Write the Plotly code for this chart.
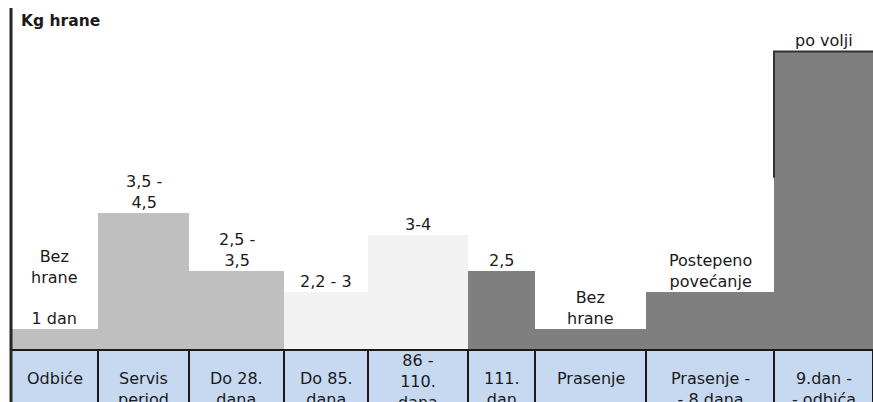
import plotly.graph_objects as go

# --- data -------------------------------------------------------------
categories = [
    "Odbiće", "Servis<br>period", "Do 28.<br>dana", "Do 85.<br>dana",
    "86 -<br>110.<br>dana", "111.<br>dan", "Prasenje",
    "Prasenje -<br>- 8.dana", "9.dan -<br>- odbića",
]
# relative feed level (kg hrane) drawn for each phase
levels = [0.65, 4.35, 2.5, 1.85, 3.65, 2.5, 0.65, 1.85, 9.45]
value_labels = [
    "Bez<br>hrane<br><br>1 dan", "3,5 -<br>4,5", "2,5 -<br>3,5", "2,2 - 3",
    "3-4", "2,5", "Bez<br>hrane", "Postepeno<br>povećanje", "po volji",
]
y_title = "Kg hrane"

# --- layout / style ---------------------------------------------------
W, H = 873, 402
left_px = 11                      # left axis position
col_widths = [87, 91, 95, 84, 100, 67, 111, 128, 99]
bar_colors = ["#bfbfbf"] * 3 + ["#f2f2f2"] * 2 + ["#7f7f7f"] * 4
baseline_px = 350                 # where bars start (top of the table row)
px_per_unit = 31.6
font_family = "DejaVu Sans"
txt_color = "#1a1a1a"
fs = 16

edges = [left_px]
for w in col_widths:
    edges.append(edges[-1] + w)
centers = [(a + b) / 2 for a, b in zip(edges[:-1], edges[1:])]

y_min = -(H - baseline_px) / px_per_unit
y_max = baseline_px / px_per_unit

fig = go.Figure()
fig.add_trace(go.Bar(
    x=centers, y=levels, width=col_widths,
    marker=dict(color=bar_colors, line=dict(width=0)),
    hoverinfo="skip", showlegend=False,
))

shapes = []
annotations = []

# table row with phase names
for i, cat in enumerate(categories):
    shapes.append(dict(
        type="rect", xref="x", yref="y",
        x0=edges[i], x1=edges[i + 1], y0=0, y1=y_min - 2,
        fillcolor="#c6d9f1", line=dict(color="#1a1a1a", width=2),
        layer="above",
    ))
    nlines = cat.count("<br>") + 1
    top_px = baseline_px - 1 if nlines >= 3 else baseline_px + 17
    annotations.append(dict(
        x=centers[i], xref="x", y=(baseline_px - top_px) / px_per_unit, yref="y",
        text=cat, showarrow=False, yanchor="top", xanchor="center",
        font=dict(family=font_family, size=fs, color=txt_color),
    ))

# value labels above each step
for i, lab in enumerate(value_labels):
    annotations.append(dict(
        x=centers[i], xref="x", y=levels[i], yref="y",
        text=lab, showarrow=False, yanchor="bottom", xanchor="center",
        yshift=-1,
        font=dict(family=font_family, size=fs, color=txt_color),
    ))

# vertical axis line
shapes.append(dict(
    type="line", xref="x", yref="y",
    x0=left_px, x1=left_px, y0=y_min - 2, y1=(baseline_px - 8) / px_per_unit,
    line=dict(color="#262626", width=3), layer="above",
))

# outline on the last (ad libitum) step
last_top = levels[-1]
edge_drop = 4.0
shapes.append(dict(
    type="path", xref="x", yref="y",
    path=f"M {edges[-2]},{last_top - edge_drop} L {edges[-2]},{last_top} L {edges[-1]},{last_top}",
    line=dict(color="#333333", width=2), layer="above",
))

annotations.append(dict(
    x=left_px + 8, xref="x", y=(baseline_px - 21) / px_per_unit, yref="y",
    text=f"<b>{y_title}</b>", showarrow=False, xanchor="left", yanchor="middle",
    font=dict(family=font_family, size=15.5, color=txt_color),
))

fig.update_layout(
    width=W, height=H,
    margin=dict(l=0, r=0, t=0, b=0),
    paper_bgcolor="white", plot_bgcolor="white",
    xaxis=dict(range=[0, W], visible=False, fixedrange=True),
    yaxis=dict(range=[y_min, y_max], visible=False, fixedrange=True),
    shapes=shapes, annotations=annotations,
    bargap=0,
)

fig.write_html("out.html")
